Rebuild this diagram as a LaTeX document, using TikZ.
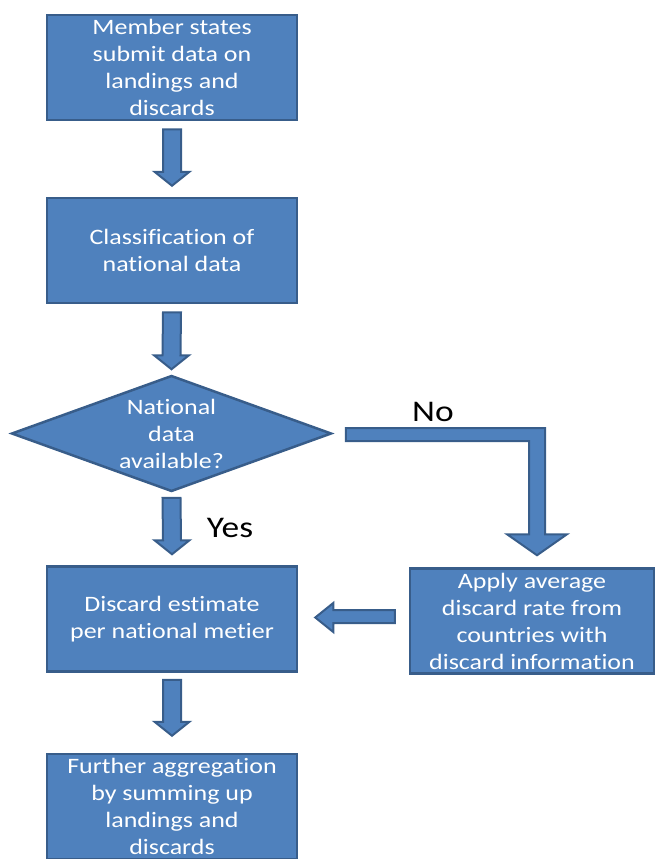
\documentclass[tikz,border=0pt]{standalone}
\usepackage{fontspec}
\setmainfont{Carlito}[FakeStretch=1.18, Ligatures=CommonOff]
\usetikzlibrary{shapes.geometric,calc,positioning}

\definecolor{boxfill}{HTML}{4F81BD}
\definecolor{boxline}{HTML}{385D8A}

\tikzset{
  stepbox/.style={draw=boxline, line width=2.5pt, fill=boxfill, text=white,
    minimum width=250pt, minimum height=105pt, inner sep=0pt, align=center,
    font=\fontsize{22}{27}\selectfont},
  askbox/.style={stepbox, shape=diamond, shape aspect=2.76, inner xsep=0pt, inner ysep=-6pt,
    minimum width=320pt, minimum height=116pt},
  blockarrow/.style={draw=boxline, line width=2pt, fill=boxfill, line join=miter},
  answer/.style={font=\fontsize{30}{34}\selectfont, text=black, inner sep=0pt}
}

% vertical block arrow: start node, gap, end node, gap
\newcommand\vblock[4]{%
  \draw[blockarrow] ($(#1)+(-9,#2)$) -- ($(#3)+(-9,-#4-14)$) -- ($(#3)+(-17.5,-#4-14)$)
    -- ($(#3)+(0,-#4)$) -- ($(#3)+(17.5,-#4-14)$) -- ($(#3)+(9,-#4-14)$)
    -- ($(#1)+(9,#2)$) -- cycle;}

\begin{document}
\begin{tikzpicture}[x=1pt, y=-1pt]
  \useasboundingbox (0,0) rectangle (654,859);

  \node [stepbox] (submit) at (172,67.5) {Member states\\submit data on\\landings and\\discards};
  \node [stepbox] (classify) at (172,250.5) {Classification of\\national data};
  \node [askbox] (avail) at (171.5,433.5) {National\\data\\available?};
  \node [stepbox] (estimate) at (172,619) {Discard estimate\\per national metier};
  \node [stepbox] (further) at (172,806.5) {Further aggregation\\by summing up\\landings and\\discards};
  \node [stepbox, minimum width=244pt] (apply) at (532,621) {Apply average\\discard rate from\\countries with\\discard information};

  \node [answer] (yes) at (230,528) {Yes};
  \node [answer] (no) at (433,412) {No};

  \vblock{submit.south}{8}{classify.north}{11}
  \vblock{classify.south}{8}{avail.north}{5}
  \vblock{avail.south}{5}{estimate.north}{11}
  \vblock{estimate.south}{7}{further.north}{17}

  \coordinate (nostart) at ($(avail.east)+(13,1)$);
  \coordinate (notip) at ($(apply.north)+(5,-12)$);
  \coordinate (nocorner) at (notip |- nostart);
  \draw [blockarrow] ($(nostart)+(0,-6.5)$) -- ($(nocorner)+(8,-6.5)$) -- ($(notip)+(8,-21)$)
    -- ($(notip)+(30,-21)$) -- (notip) -- ($(notip)+(-30,-21)$) -- ($(notip)+(-8,-21)$)
    -- ($(nocorner)+(-8,6.5)$) -- ($(nostart)+(0,6.5)$) -- cycle;

  \coordinate (backstart) at ($(apply.west)+(-14,-4.5)$);
  \coordinate (backtip) at ($(estimate.east)+(17,-1.5)$);
  \draw [blockarrow] ($(backstart)+(0,-6.5)$) -- ($(backtip |- backstart)+(18,-6.5)$)
    -- ($(backtip)+(18,-14.5)$) -- (backtip) -- ($(backtip)+(18,14.5)$)
    -- ($(backtip |- backstart)+(18,6.5)$) -- ($(backstart)+(0,6.5)$) -- cycle;
\end{tikzpicture}
\end{document}
